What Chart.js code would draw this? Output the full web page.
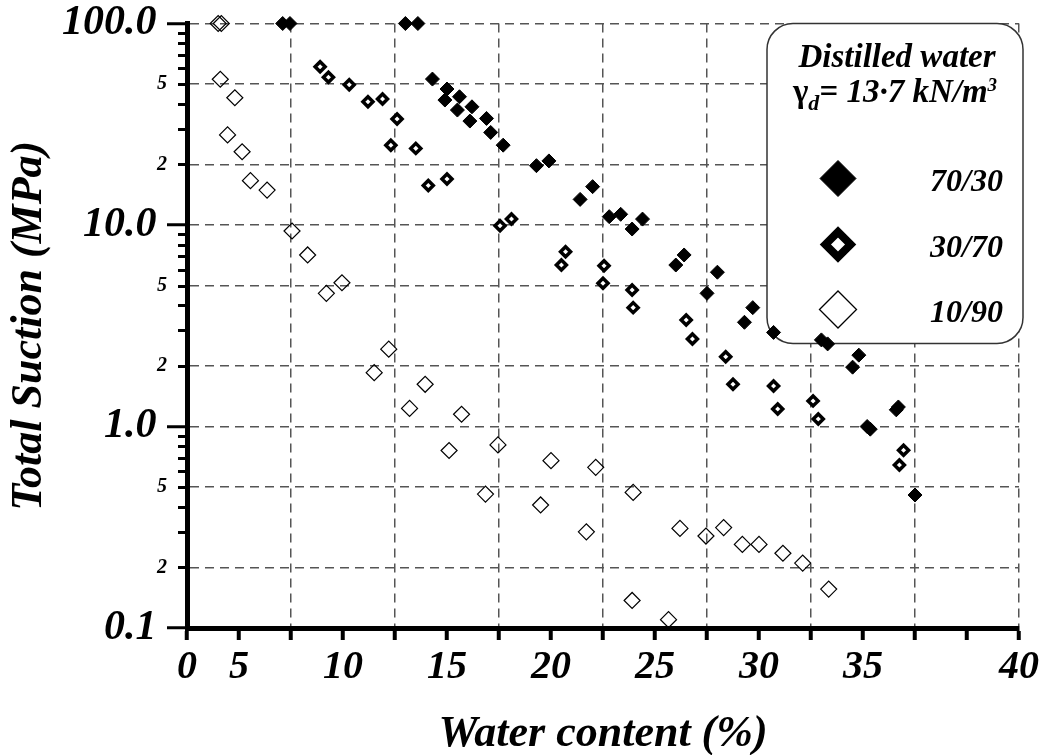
<!DOCTYPE html>
<html>
<head>
<meta charset="utf-8">
<title>Total suction - water content</title>
<script src="https://cdn.jsdelivr.net/npm/chart.js@4.4.1/dist/chart.umd.min.js"></script>
<style>
    html, body { margin: 0; padding: 0; background: #fff; }
    #wrap { width: 1047px; height: 755px; }
</style>
</head>
<body>
<div id="wrap"><canvas id="suctionChart"></canvas></div>
<script>
// Water content (%) and total suction (MPa) per mix
const water7030 = [7.1, 7.45, 13.0, 13.6, 14.3, 15.0, 14.9, 15.6, 15.5, 16.2, 16.1, 16.9, 17.1, 17.7, 19.3, 19.9, 21.4, 22.0, 22.8, 23.35, 23.9, 24.4, 26.0, 26.4, 28.0, 27.5, 29.7, 29.3, 30.7, 33.0, 33.3, 34.8, 34.5, 36.7, 36.6, 35.2, 35.35, 37.5];
const suction7030 = [100, 100, 100, 100, 53, 47.3, 41.7, 43.3, 37.2, 38.6, 32.8, 33.8, 28.8, 24.9, 19.7, 20.8, 13.4, 15.5, 11.0, 11.3, 9.55, 10.7, 6.33, 7.1, 5.83, 4.58, 3.89, 3.29, 2.93, 2.69, 2.57, 2.26, 1.97, 1.25, 1.21, 1.0, 0.97, 0.457];

const water3070 = [8.9, 9.3, 10.3, 11.2, 11.9, 12.6, 12.3, 13.5, 14.1, 15.0, 17.55, 18.1, 20.7, 20.5, 22.55, 22.5, 23.9, 23.95, 26.5, 26.8, 28.4, 28.75, 30.7, 30.9, 32.6, 32.85, 36.95, 36.75];
const suction3070 = [61, 54.1, 49.7, 40.9, 42.2, 33.6, 24.9, 24.0, 15.7, 16.9, 9.92, 10.7, 7.37, 6.33, 6.28, 5.14, 4.76, 3.89, 3.38, 2.72, 2.22, 1.62, 1.59, 1.22, 1.34, 1.09, 0.762, 0.644];

const water1090 = [4.0, 4.15, 4.1, 4.8, 4.45, 5.15, 5.55, 6.35, 7.55, 8.3, 9.95, 9.2, 12.2, 11.5, 13.95, 13.2, 15.7, 15.1, 17.45, 20.0, 22.15, 16.85, 19.5, 21.7, 23.95, 26.2, 27.45, 28.3, 29.2, 30.0, 31.15, 32.1, 33.35, 23.9, 25.65];
const suction1090 = [100, 100, 52.9, 42.8, 28.0, 23.1, 16.6, 14.9, 9.34, 7.1, 5.17, 4.58, 2.42, 1.85, 1.62, 1.23, 1.15, 0.76, 0.81, 0.677, 0.627, 0.462, 0.408, 0.30, 0.471, 0.312, 0.286, 0.315, 0.26, 0.26, 0.235, 0.21, 0.156, 0.137, 0.110];

// Axis ticks
const xTickValues = [2.5, 5, 7.5, 10, 12.5, 15, 17.5, 20, 22.5, 25, 27.5, 30, 32.5, 35, 37.5, 40, 42.5];
const xTickLabels = ['0', '5', '', '10', '', '15', '', '20', '', '25', '', '30', '', '35', '', '', '40'];
const xGridValues = [7.5, 12.5, 17.5, 22.5, 27.5, 32.5, 37.5, 42.5];

const yTickValues = [0.1, 0.2, 0.3, 0.4, 0.5, 0.6, 0.7, 0.8, 0.9, 1, 2, 3, 4, 5, 6, 7, 8, 9, 10, 20, 30, 40, 50, 60, 70, 80, 90, 100];
const yTickLabels = ['0.1', '2', '', '', '5', '', '', '', '', '1.0', '2', '', '', '5', '', '', '', '', '10.0', '2', '', '', '5', '', '', '', '', '100.0'];
const yGridValues = [0.1, 0.2, 0.5, 1, 2, 5, 10, 20, 50, 100];
const yMajorValues = [0.1, 1, 10, 100];

const legendLabels = ['70/30', '30/70', '10/90'];

const FONT = '"Liberation Serif", "Times New Roman", serif';
const GRID_COLOR = '#555';

document.addEventListener('DOMContentLoaded', function () {
    initializeSuctionChart();
});

function toPoints(xs, ys) {
    return xs.map((x, i) => ({ x: x, y: ys[i] }));
}

// Rounded legend box, drawn over the grid and under the points
const legendBoxPlugin = {
    id: 'legendBox',
    beforeDatasetsDraw(chart) {
        const ctx = chart.ctx;
        const area = chart.chartArea;
        const yScale = chart.scales.y;

        // minor ticks of the log axis
        ctx.save();
        ctx.strokeStyle = '#000';
        ctx.lineWidth = 3;
        yTickValues.forEach(v => {
            if (yMajorValues.includes(v)) return;
            const py = Math.round(yScale.getPixelForValue(v)) + 0.5;
            ctx.beginPath();
            ctx.moveTo(area.left - 9, py);
            ctx.lineTo(area.left, py);
            ctx.stroke();
        });
        ctx.restore();

        const left = area.right - 252;
        const top = area.top;
        const w = 256;
        const h = 320;
        const r = 26;

        ctx.save();
        ctx.beginPath();
        ctx.moveTo(left + r, top);
        ctx.arcTo(left + w, top, left + w, top + h, r);
        ctx.arcTo(left + w, top + h, left, top + h, r);
        ctx.arcTo(left, top + h, left, top, r);
        ctx.arcTo(left, top, left + w, top, r);
        ctx.closePath();
        ctx.fillStyle = '#fff';
        ctx.fill();
        ctx.lineWidth = 1.5;
        ctx.strokeStyle = '#333';
        ctx.stroke();

        // title lines
        ctx.fillStyle = '#000';
        ctx.textBaseline = 'alphabetic';
        ctx.textAlign = 'center';
        ctx.font = 'italic bold 33px ' + FONT;
        ctx.fillText('Distilled water', left + 130, top + 43);

        const parts = [
            { t: 'γ', size: 33, dy: 0, style: 'bold' },
            { t: 'd', size: 22, dy: 8, style: 'italic bold' },
            { t: '= 13·7 kN/m', size: 33, dy: 0, style: 'italic bold' },
            { t: '3', size: 19, dy: -11, style: 'italic bold' }
        ];
        let total = 0;
        parts.forEach(p => {
            ctx.font = p.style + ' ' + p.size + 'px ' + FONT;
            p.w = ctx.measureText(p.t).width;
            total += p.w;
        });
        let px = left + 128 - total / 2;
        ctx.textAlign = 'left';
        parts.forEach(p => {
            ctx.font = p.style + ' ' + p.size + 'px ' + FONT;
            ctx.fillText(p.t, px, top + 78 + p.dy);
            px += p.w;
        });

        // legend items
        const rowY = [top + 155, top + 221, top + 286];
        chart.data.datasets.forEach((ds, i) => {
            ctx.fillStyle = ds.pointBackgroundColor;
            ctx.strokeStyle = ds.pointBorderColor;
            ctx.lineWidth = ds.legendBorder;
            Chart.helpers.drawPoint(ctx, {
                pointStyle: 'rectRot',
                rotation: 0,
                radius: ds.legendRadius,
                borderWidth: ds.legendBorder
            }, left + 71, rowY[i]);

            ctx.fillStyle = '#000';
            ctx.textAlign = 'right';
            ctx.font = 'italic bold 32px ' + FONT;
            ctx.fillText(legendLabels[i], left + 236, rowY[i] + 12);
        });
        ctx.restore();
    }
};

function initializeSuctionChart() {
    const canvas = document.getElementById('suctionChart');
    if (!canvas) return;

    new Chart(canvas, {
        type: 'scatter',
        data: {
            datasets: [{
                label: legendLabels[0],
                data: toPoints(water7030, suction7030),
                pointStyle: 'rectRot',
                pointRadius: 7,
                pointBorderWidth: 1,
                pointBackgroundColor: '#000',
                pointBorderColor: '#000',
                legendRadius: 18,
                legendBorder: 1,
                clip: false
            }, {
                label: legendLabels[1],
                data: toPoints(water3070, suction3070),
                pointStyle: 'rectRot',
                pointRadius: 5,
                pointBorderWidth: 3.5,
                pointBackgroundColor: '#fff',
                pointBorderColor: '#000',
                legendRadius: 12.6,
                legendBorder: 8,
                clip: false
            }, {
                label: legendLabels[2],
                data: toPoints(water1090, suction1090),
                pointStyle: 'rectRot',
                pointRadius: 8,
                pointBorderWidth: 1.2,
                pointBackgroundColor: 'rgba(255,255,255,0)',
                pointBorderColor: '#000',
                legendRadius: 18.5,
                legendBorder: 1.3,
                clip: false
            }]
        },
        options: {
            responsive: true,
            maintainAspectRatio: false,
            animation: false,
            events: [],
            layout: { padding: { top: 23.5, right: 28, bottom: 0, left: 0 } },
            plugins: {
                legend: { display: false },
                tooltip: { enabled: false }
            },
            scales: {
                x: {
                    type: 'linear',
                    min: 2.5,
                    max: 42.5,
                    afterBuildTicks: scale => {
                        scale.ticks = xTickValues.map(v => ({ value: v }));
                    },
                    afterFit: scale => { scale.height = 127; },
                    ticks: {
                        autoSkip: false,
                        maxRotation: 0,
                        padding: 4,
                        color: '#000',
                        font: { family: FONT, size: 40, style: 'italic', weight: 'bold' },
                        callback: (value, index) => xTickLabels[index]
                    },
                    grid: {
                        color: ctx => xGridValues.includes(ctx.tick && ctx.tick.value) ? GRID_COLOR : 'rgba(0,0,0,0)',
                        lineWidth: 1.5,
                        tickColor: '#000',
                        tickWidth: 4,
                        tickLength: 12
                    },
                    border: { display: true, color: '#000', width: 5, dash: [9, 6] },
                    title: {
                        display: true,
                        text: 'Water content (%)',
                        color: '#000',
                        padding: { top: 0, bottom: -2 },
                        font: { family: FONT, size: 44, style: 'italic', weight: 'bold', lineHeight: 1 }
                    }
                },
                y: {
                    type: 'logarithmic',
                    min: 0.1,
                    max: 100,
                    afterBuildTicks: scale => {
                        scale.ticks = yTickValues.map(v => ({ value: v }));
                    },
                    afterFit: scale => { scale.width = 187; },
                    ticks: {
                        autoSkip: false,
                        padding: 0,
                        color: '#000',
                        font: ctx => yMajorValues.includes(ctx.tick && ctx.tick.value)
                            ? { family: FONT, size: 42, style: 'italic', weight: 'bold', lineHeight: 1 }
                            : { family: FONT, size: 20, style: 'italic', weight: 'bold', lineHeight: 1 },
                        callback: (value, index) => {
                            const label = yTickLabels[index];
                            return yMajorValues.includes(value) ? label + ' ' : label;
                        }
                    },
                    grid: {
                        color: ctx => yGridValues.includes(ctx.tick && ctx.tick.value) ? GRID_COLOR : 'rgba(0,0,0,0)',
                        lineWidth: 1.5,
                        tickColor: ctx => yMajorValues.includes(ctx.tick && ctx.tick.value) ? '#000' : 'rgba(0,0,0,0)',
                        tickWidth: 3,
                        tickLength: 20
                    },
                    border: { display: true, color: '#000', width: 5, dash: [9, 6] },
                    title: {
                        display: true,
                        text: 'Total Suction (MPa)',
                        color: '#000',
                        padding: { top: 8, bottom: 0 },
                        font: { family: FONT, size: 44, style: 'italic', weight: 'bold', lineHeight: 1 }
                    }
                }
            }
        },
        plugins: [legendBoxPlugin]
    });
}
</script>
</body>
</html>
